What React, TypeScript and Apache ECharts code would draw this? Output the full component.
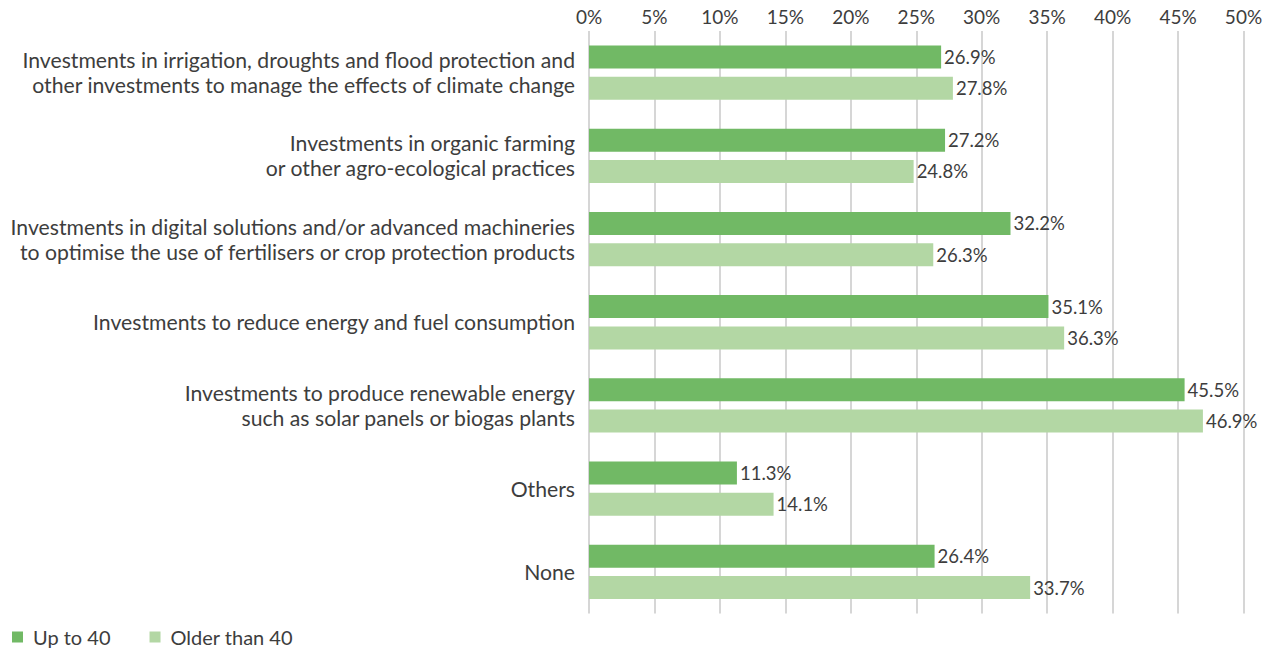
import React, { useEffect, useRef } from "react";
import * as echarts from "echarts";

const categories = [
  "Investments in irrigation, droughts and flood protection and\nother investments to manage the effects of climate change",
  "Investments in organic farming\nor other agro-ecological practices",
  "Investments in digital solutions and/or advanced machineries\nto optimise the use of fertilisers or crop protection products",
  "Investments to reduce energy and fuel consumption",
  "Investments to produce renewable energy\nsuch as solar panels or biogas plants",
  "Others",
  "None",
];
const upTo40 = [26.9, 27.2, 32.2, 35.1, 45.5, 11.3, 26.4];
const olderThan40 = [27.8, 24.8, 26.3, 36.3, 46.9, 14.1, 33.7];
const seriesNames = ["Up to 40", "Older than 40"];
const colors = ["#71b965", "#b3d7a4"];

const FONT = "Lato";
const TEXT = "#3d3d3d";

export default function App() {
  const ref = useRef<HTMLDivElement>(null);
  useEffect(() => {
    document.body.style.margin = "0";
    const chart = echarts.init(ref.current!, null, { renderer: "svg" });
    const label = {
      show: true,
      position: "right" as const,
      distance: 3,
      color: TEXT,
      fontFamily: FONT,
      fontSize: 18.5,
      formatter: (p: any) => p.value.toFixed(1) + "%",
    };
    chart.setOption({
      animation: false,
      textStyle: { fontFamily: FONT },
      legend: {
        left: 7,
        top: 622,
        itemWidth: 11,
        itemHeight: 11,
        itemGap: 39,
        icon: "rect",
        textStyle: { color: TEXT, fontFamily: FONT, fontSize: 20, padding: [0, 0, 0, 5] },
        data: seriesNames,
      },
      grid: { left: 589, right: 24.5, top: 31, bottom: 35.5, containLabel: false },
      xAxis: {
        type: "value",
        position: "top",
        min: 0,
        max: 50,
        interval: 5,
        axisLine: { show: false },
        axisTick: { show: false },
        axisLabel: {
          color: TEXT,
          fontFamily: FONT,
          fontSize: 19,
          margin: 5,
          formatter: (v: number) => v + "%",
        },
        splitLine: { show: true, lineStyle: { color: "#c8c8c8", width: 1.5 } },
      },
      yAxis: {
        type: "category",
        inverse: true,
        data: categories,
        axisLine: { show: false },
        axisTick: { show: false },
        axisLabel: {
          color: TEXT,
          fontFamily: FONT,
          fontSize: 21.2,
          lineHeight: 25,
          margin: 14,
          align: "right",
        },
      },
      series: [
        {
          name: seriesNames[0],
          type: "bar",
          data: upTo40,
          barWidth: 23,
          barGap: "36%",
          itemStyle: { color: colors[0] },
          label,
        },
        {
          name: seriesNames[1],
          type: "bar",
          data: olderThan40,
          barWidth: 23,
          barGap: "36%",
          itemStyle: { color: colors[1] },
          label,
        },
      ],
    });
    return () => chart.dispose();
  }, []);
  return <div ref={ref} style={{ width: 1268, height: 649 }} />;
}
